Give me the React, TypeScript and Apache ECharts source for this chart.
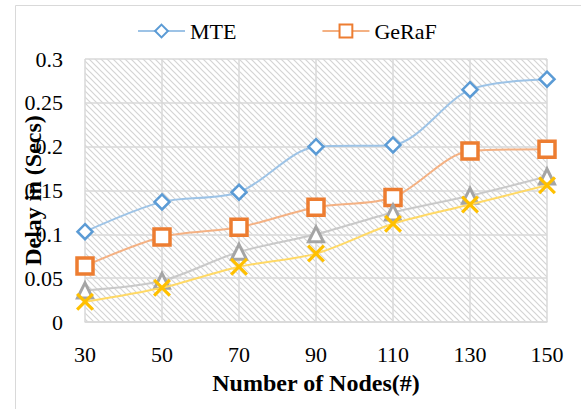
import React, { useEffect, useRef } from "react";
import * as echarts from "echarts";

const categories = ["30", "50", "70", "90", "110", "130", "150"];
const mteValues = [0.103, 0.137, 0.148, 0.2, 0.202, 0.265, 0.277];
const gerafValues = [0.064, 0.097, 0.108, 0.131, 0.142, 0.195, 0.197];
const series3Values = [0.036, 0.047, 0.08, 0.1, 0.125, 0.144, 0.166];
const series4Values = [0.023, 0.039, 0.063, 0.078, 0.112, 0.134, 0.156];
const yTicks = { min: 0, max: 0.3, interval: 0.05 };

const FONT = "Times New Roman";

function makeHatch(): string {
  const s = 6;
  const c = document.createElement("canvas");
  c.width = s;
  c.height = s;
  const ctx = c.getContext("2d")!;
  ctx.fillStyle = "#ffffff";
  ctx.fillRect(0, 0, s, s);
  ctx.strokeStyle = "#d4d4d4";
  ctx.lineWidth = 1.2;
  ctx.beginPath();
  ctx.moveTo(-1, -1);
  ctx.lineTo(s + 1, s + 1);
  ctx.moveTo(-1, s - 1);
  ctx.lineTo(1, s + 1);
  ctx.moveTo(s - 1, -1);
  ctx.lineTo(s + 1, 1);
  ctx.stroke();
  return c.toDataURL();
}

const X_PATH =
  "path://M0,2.5 L2.5,0 L10,7.5 L17.5,0 L20,2.5 L12.5,10 L20,17.5 L17.5,20 L10,12.5 L2.5,20 L0,17.5 L7.5,10 Z";

export default function App() {
  const ref = useRef<HTMLDivElement>(null);
  useEffect(() => {
    if (!ref.current) return;
    const chart = echarts.init(ref.current, undefined, { renderer: "svg" });
    const hatch = makeHatch();
    chart.setOption({
      animation: false,
      backgroundColor: "#ffffff",
      textStyle: { fontFamily: FONT },
      graphic: [
        {
          type: "rect",
          left: 13,
          top: 3,
          shape: { width: 566, height: 430 },
          style: { fill: "none", stroke: "#d9d9d9", lineWidth: 1 },
          silent: true,
          z: -1,
        },
      ],
      legend: {
        data: ["MTE", "GeRaF"],
        left: 132,
        top: 15,
        itemWidth: 47,
        itemHeight: 16,
        itemGap: 85,
        textStyle: { fontFamily: FONT, fontSize: 22, color: "#000" },
      },
      grid: {
        show: true,
        left: 85,
        right: 34,
        top: 59,
        bottom: 87,
        containLabel: false,
        outerBoundsMode: "none",
        borderWidth: 0,
        backgroundColor: {
          image: hatch,
          repeat: "repeat",
          imageWidth: 6,
          imageHeight: 6,
        },
      },
      xAxis: {
        type: "category",
        data: categories,
        boundaryGap: false,
        name: "Number of Nodes(#)",
        nameLocation: "middle",
        nameGap: 49,
        nameMoveOverlap: false,
        nameTextStyle: { fontFamily: FONT, fontSize: 24, fontWeight: "bold", color: "#000" },
        axisLine: { lineStyle: { color: "#d9d9d9", width: 1.5 } },
        axisTick: { show: false },
        axisLabel: { fontFamily: FONT, fontSize: 22, color: "#000", margin: 21 },
        splitLine: { show: true, lineStyle: { color: "#d9d9d9", width: 1.5 } },
      },
      yAxis: {
        type: "value",
        min: yTicks.min,
        max: yTicks.max,
        interval: yTicks.interval,
        name: "Delay in (Secs)",
        nameLocation: "middle",
        nameGap: 40,
        nameMoveOverlap: false,
        nameTextStyle: { fontFamily: FONT, fontSize: 24, fontWeight: "bold", color: "#000" },
        axisLine: { show: false },
        axisTick: { show: false },
        axisLabel: { fontFamily: FONT, fontSize: 22, color: "#000", margin: 22 },
        splitLine: { show: true, lineStyle: { color: "#d9d9d9", width: 1.5 } },
      },
      series: [
        {
          name: "MTE",
          type: "line",
          data: mteValues,
          smooth: 0.3,
          symbol: "diamond",
          symbolSize: 15,
          lineStyle: { color: "#9DC3E6", width: 2 },
          itemStyle: { color: "#ffffff", borderColor: "#5B9BD5", borderWidth: 2.5 },
          z: 2,
        },
        {
          name: "GeRaF",
          type: "line",
          data: gerafValues,
          smooth: 0.3,
          symbol: "rect",
          symbolSize: 16,
          lineStyle: { color: "#F4B183", width: 2 },
          itemStyle: { color: "#ffffff", borderColor: "#ED7D31", borderWidth: 3.5 },
          z: 3,
        },
        {
          name: "Series3",
          type: "line",
          data: series3Values,
          smooth: 0.3,
          symbol: "triangle",
          symbolSize: 15,
          lineStyle: { color: "#C9C9C9", width: 2 },
          itemStyle: { color: "#ffffff", borderColor: "#A5A5A5", borderWidth: 3 },
          z: 4,
        },
        {
          name: "Series4",
          type: "line",
          data: series4Values,
          smooth: 0.3,
          symbol: X_PATH,
          symbolSize: 18,
          lineStyle: { color: "#FFD966", width: 2 },
          itemStyle: { color: "#FFC000" },
          z: 5,
        },
      ],
    });
    return () => chart.dispose();
  }, []);
  return (
    <div
      ref={ref}
      style={{ position: "absolute", left: 0, top: 0, width: 581, height: 409 }}
    />
  );
}
